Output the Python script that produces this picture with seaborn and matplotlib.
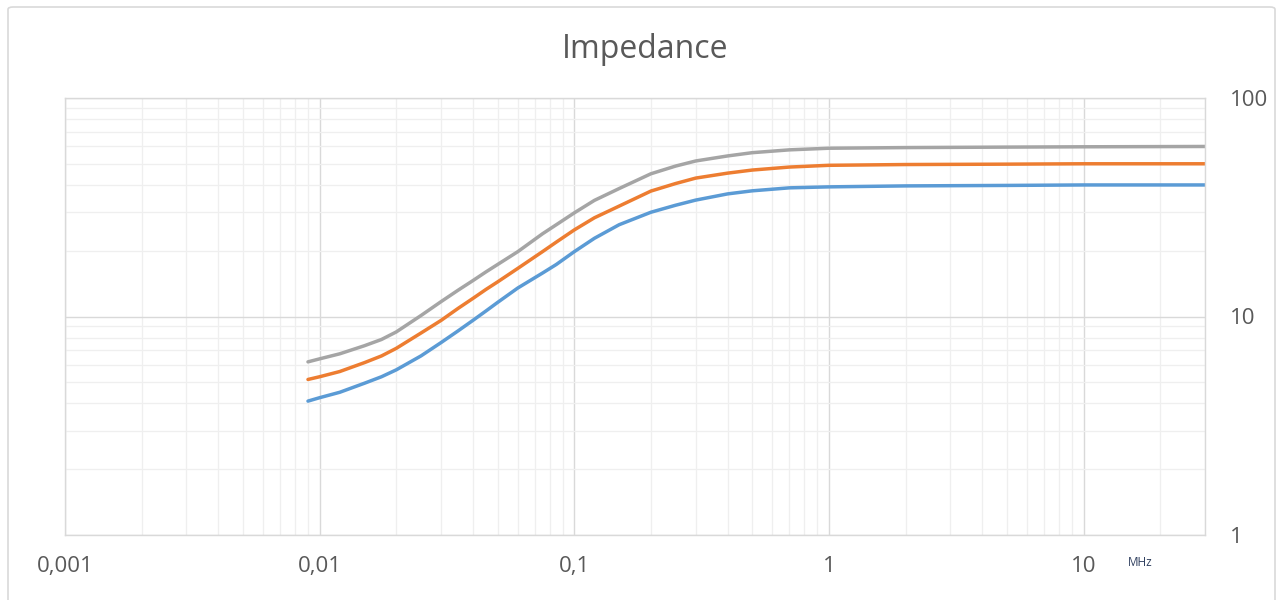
import matplotlib
matplotlib.use("Agg")
import matplotlib.pyplot as plt
import matplotlib.patches as mpatches
from matplotlib.ticker import FixedLocator, LogLocator, NullFormatter
import numpy as np
import pandas as pd
import seaborn as sns

# ---- data ----
freq_mhz = [0.009, 0.01, 0.012, 0.015, 0.0175, 0.02, 0.025, 0.03, 0.035, 0.04,
            0.045, 0.05, 0.06, 0.075, 0.085, 0.1, 0.12, 0.15, 0.2, 0.25,
            0.3, 0.4, 0.5, 0.7, 1, 2, 5, 10, 30]
series_blue = [4.1, 4.25, 4.5, 4.95, 5.3, 5.7, 6.6, 7.6, 8.6, 9.6,
               10.6, 11.6, 13.5, 15.8, 17.3, 19.8, 22.8, 26.3, 30.0, 32.3,
               34.1, 36.4, 37.6, 38.8, 39.2, 39.6, 39.8, 40.0, 40.0]
series_orange = [5.15, 5.3, 5.6, 6.15, 6.6, 7.15, 8.4, 9.6, 10.9, 12.1,
                 13.3, 14.4, 16.6, 19.8, 21.9, 24.9, 28.3, 32.0, 37.5, 40.6,
                 43.0, 45.3, 46.8, 48.3, 49.2, 49.6, 49.8, 50.0, 50.0]
series_gray = [6.2, 6.4, 6.75, 7.35, 7.85, 8.5, 10.1, 11.7, 13.2, 14.6,
               16.0, 17.3, 19.8, 23.9, 26.3, 29.8, 34.0, 38.5, 45.0, 48.8,
               51.5, 54.3, 56.2, 57.9, 58.9, 59.3, 59.6, 59.8, 60.0]
series_names = ["Series1", "Series2", "Series3"]
series_colors = ["#5B9BD5", "#ED7D31", "#A5A5A5"]
x_ticks = [0.001, 0.01, 0.1, 1, 10]
x_ticklabels = ["0,001", "0,01", "0,1", "1", "10"]
y_ticks = [1, 10, 100]
y_ticklabels = ["1", "10", "100"]
title = "Impedance"
unit_label = "MHz"

df = pd.concat([
    pd.DataFrame({"freq": freq_mhz, "z": vals, "series": name})
    for name, vals in zip(series_names, [series_blue, series_orange, series_gray])
], ignore_index=True)

sns.set_theme(style="white")
plt.rcParams["font.family"] = ["Open Sans", "DejaVu Sans"]

W, H = 1283, 600
fig = plt.figure(figsize=(W / 100, H / 100), dpi=100)
fig.patch.set_facecolor("white")

# outer chart border
border = mpatches.FancyBboxPatch((8 / W, -0.05), (1275 - 8) / W, (600 - 7) / H + 0.05,
                                 boxstyle="round,pad=0,rounding_size=0.004",
                                 transform=fig.transFigure, facecolor="none",
                                 edgecolor="#D9D9D9", linewidth=1.2)
fig.patches.append(border)

left, right, top, bottom = 65, 1205, 98, 535
ax = fig.add_axes([left / W, 1 - bottom / H, (right - left) / W, (bottom - top) / H])

sns.lineplot(data=df, x="freq", y="z", hue="series", palette=series_colors,
             hue_order=series_names, linewidth=2.5, legend=False, ax=ax,
             estimator=None, sort=False)
for ln in ax.lines:
    ln.set_solid_joinstyle("round")
    ln.set_solid_capstyle("round")

ax.set_xscale("log")
ax.set_yscale("log")
ax.set_xlim(0.001, 30)
ax.set_ylim(1, 100)

ax.xaxis.set_major_locator(FixedLocator(x_ticks))
ax.set_xticklabels(x_ticklabels)
ax.xaxis.set_minor_locator(LogLocator(base=10, subs=np.arange(2, 10)))
ax.xaxis.set_minor_formatter(NullFormatter())
ax.yaxis.set_major_locator(FixedLocator(y_ticks))
ax.set_yticklabels(y_ticklabels)
ax.yaxis.set_minor_locator(LogLocator(base=10, subs=np.arange(2, 10)))
ax.yaxis.set_minor_formatter(NullFormatter())

ax.yaxis.tick_right()
ax.tick_params(axis="both", which="both", length=0, colors="#595959", labelsize=16)
ax.tick_params(axis="x", which="major", pad=15)
ax.tick_params(axis="y", which="major", pad=18)

ax.grid(True, which="major", color="#D9D9D9", linewidth=1.0)
ax.grid(True, which="minor", color="#EFEFEF", linewidth=0.9)
ax.set_axisbelow(True)
for s in ax.spines.values():
    s.set_color("#D9D9D9")
    s.set_linewidth(1.0)
ax.set_xlabel("")
ax.set_ylabel("")

fig.text(645 / W, 1 - 49 / H, title, ha="center", va="center",
         fontsize=23, color="#595959")
fig.text(1128 / W, 1 - 563 / H, unit_label, ha="left", va="center",
         fontsize=8.5, color="#2F3F5F")

fig.savefig("out.png", dpi=100)
